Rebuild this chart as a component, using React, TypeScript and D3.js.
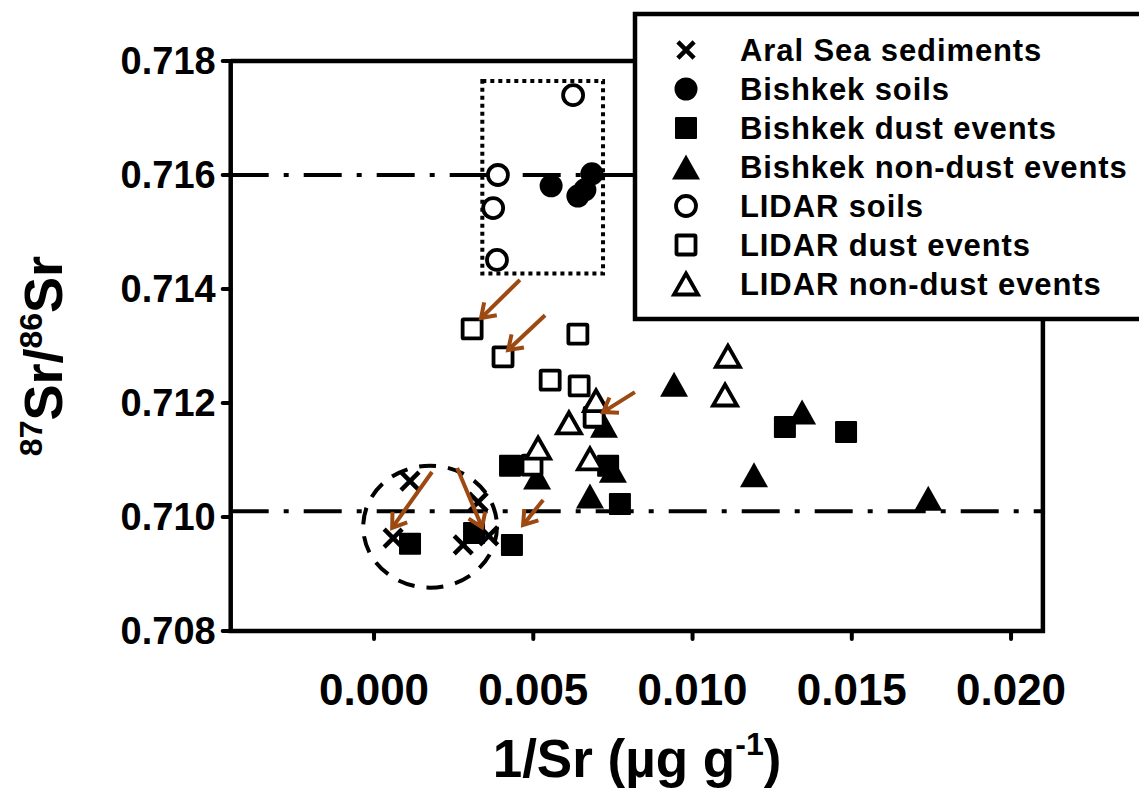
import React from "react";
import * as d3 from "d3";

const W = 1139;
const H = 792;
const FONT = "'Liberation Sans', Arial, sans-serif";
const ARROW_COLOR = "#9C4A12";

const xTicks = [0, 0.005, 0.01, 0.015, 0.02];
const yTicks = [0.708, 0.71, 0.712, 0.714, 0.716, 0.718];
const refLines = [0.716, 0.7101];

type P = [number, number];

const aralSea: P[] = [
  [0.00113, 0.71063],
  [0.0006, 0.70963],
  [0.0028, 0.70951],
  [0.00327, 0.71026],
  [0.0036, 0.70967],
];
const bishkekSoils: P[] = [
  [0.00556, 0.71581],
  [0.0064, 0.71563],
  [0.00662, 0.71574],
  [0.00684, 0.71602],
];
const bishkekDust: P[] = [
  [0.00113, 0.70953],
  [0.00314, 0.70972],
  [0.00433, 0.70951],
  [0.00427, 0.7109],
  [0.00735, 0.7109],
  [0.00772, 0.71023],
  [0.0129, 0.71158],
  [0.01482, 0.71149],
];
const bishkekNonDust: P[] = [
  [0.00942, 0.71233],
  [0.00512, 0.7107],
  [0.00722, 0.71161],
  [0.00678, 0.71037],
  [0.0075, 0.71082],
  [0.01193, 0.71074],
  [0.01344, 0.71184],
  [0.0174, 0.71033],
];
const lidarSoils: P[] = [
  [0.00625, 0.7174],
  [0.00389, 0.716],
  [0.00374, 0.71542],
  [0.00386, 0.71451],
];
const lidarDust: P[] = [
  [0.00308, 0.7133],
  [0.00405, 0.71281],
  [0.0064, 0.71321],
  [0.00553, 0.7124],
  [0.00644, 0.7123],
  [0.00691, 0.71175],
  [0.00496, 0.71091],
];
const lidarNonDust: P[] = [
  [0.00697, 0.71204],
  [0.00612, 0.71165],
  [0.00515, 0.71121],
  [0.00678, 0.71102],
  [0.01111, 0.71282],
  [0.01102, 0.71214],
];

// arrows: [x1, y1, x2(head), y2(head)]
const arrows: [number, number, number, number][] = [
  [0.00458, 0.71416, 0.00336, 0.71349],
  [0.00537, 0.71354, 0.00421, 0.71293],
  [0.00819, 0.71219, 0.00719, 0.71184],
  [0.00182, 0.71079, 0.00057, 0.70981],
  [0.00261, 0.71086, 0.00339, 0.70982],
  [0.00531, 0.7103, 0.00468, 0.70986],
];

// dotted box [x0, x1, y0, y1]
const dottedBox = [0.0034, 0.00719, 0.71427, 0.71765];
// dashed ellipse [cx, cy, rx, ry]
const dashedEllipse = [0.00176, 0.70983, 0.0021, 0.00107];

const legendItems = [
  { label: "Aral Sea sediments", shape: "x" },
  { label: "Bishkek soils", shape: "circleF" },
  { label: "Bishkek dust events", shape: "squareF" },
  { label: "Bishkek non-dust events", shape: "triF" },
  { label: "LIDAR soils", shape: "circleO" },
  { label: "LIDAR dust events", shape: "squareO" },
  { label: "LIDAR non-dust events", shape: "triO" },
];

const x = d3.scaleLinear().domain([-0.0045, 0.021]).range([230.7, 1042.9]);
const y = d3.scaleLinear().domain([0.708, 0.718]).range([631, 61]);

function Marker({ shape, cx, cy, s = 1 }: { shape: string; cx: number; cy: number; s?: number }) {
  if (shape === "x") {
    const r = 9 * s;
    return (
      <path
        d={`M${cx - r},${cy - r}L${cx + r},${cy + r}M${cx - r},${cy + r}L${cx + r},${cy - r}`}
        stroke="#000"
        strokeWidth={4.5}
        fill="none"
      />
    );
  }
  if (shape === "circleF" || shape === "circleO") {
    const filled = shape === "circleF";
    return (
      <circle
        cx={cx}
        cy={cy}
        r={filled ? 11.5 * s : 10 * s}
        fill={filled ? "#000" : "#fff"}
        stroke="#000"
        strokeWidth={filled ? 0 : 3.8}
      />
    );
  }
  if (shape === "squareF" || shape === "squareO") {
    const filled = shape === "squareF";
    const h = filled ? 11 * s : 9.5 * s;
    return (
      <rect
        x={cx - h}
        y={cy - h}
        width={2 * h}
        height={2 * h}
        fill={filled ? "#000" : "#fff"}
        stroke="#000"
        strokeWidth={filled ? 0 : 3.8}
        rx={1}
      />
    );
  }
  const filled = shape === "triF";
  const hw = filled ? 14 * s : 12 * s;
  const hh = filled ? 12.5 * s : 10.5 * s;
  return (
    <path
      d={`M${cx},${cy - hh}L${cx + hw},${cy + hh}L${cx - hw},${cy + hh}Z`}
      fill={filled ? "#000" : "#fff"}
      stroke="#000"
      strokeWidth={filled ? 0 : 3.8}
      strokeLinejoin="miter"
    />
  );
}

function Arrow({ a }: { a: [number, number, number, number] }) {
  const x1 = x(a[0]);
  const y1 = y(a[1]);
  const x2 = x(a[2]);
  const y2 = y(a[3]);
  const ang = Math.atan2(y2 - y1, x2 - x1);
  const L = 16;
  const spread = 0.6;
  const ax = x2 - L * Math.cos(ang - spread);
  const ay = y2 - L * Math.sin(ang - spread);
  const bx = x2 - L * Math.cos(ang + spread);
  const by = y2 - L * Math.sin(ang + spread);
  return (
    <g stroke={ARROW_COLOR} strokeWidth={4} fill="none" strokeLinecap="butt">
      <line x1={x1} y1={y1} x2={x2} y2={y2} />
      <path d={`M${ax},${ay}L${x2},${y2}L${bx},${by}`} strokeLinejoin="miter" />
    </g>
  );
}

export default function App() {
  const x0 = x(-0.0045);
  const x1 = x(0.021);
  const yb = y(0.708);
  const yt = y(0.718);
  const series: [string, P[]][] = [
    ["x", aralSea],
    ["circleF", bishkekSoils],
    ["squareF", bishkekDust],
    ["triF", bishkekNonDust],
    ["circleO", lidarSoils],
    ["squareO", lidarDust],
    ["triO", lidarNonDust],
  ];
  return (
    <svg
      width={W}
      height={H}
      style={{ position: "absolute", left: 0, top: 0, background: "#fff" }}
      fontFamily={FONT}
    >
      <rect x={0} y={0} width={W} height={H} fill="#fff" />
      {/* reference lines */}
      {refLines.map((v) => (
        <line
          key={v}
          x1={x0}
          x2={x1}
          y1={y(v)}
          y2={y(v)}
          stroke="#000"
          strokeWidth={4}
          strokeDasharray="38 15 5 15"
        />
      ))}
      {/* frame */}
      <path
        d={`M${x0},${yt}L${x0},${yb}L${x1},${yb}L${x1},${yt}L${x0},${yt}`}
        fill="none"
        stroke="#000"
        strokeWidth={4.5}
      />
      {/* y ticks */}
      {yTicks.map((t) => (
        <g key={t}>
          <line x1={x0 - 8} x2={x0} y1={y(t)} y2={y(t)} stroke="#000" strokeWidth={4} strokeLinecap="round" />
          <text
            x={x0 - 15}
            y={y(t)}
            textAnchor="end"
            dominantBaseline="central"
            fontSize={38}
            fontWeight="bold"
          >
            {d3.format(".3f")(t)}
          </text>
        </g>
      ))}
      {/* x ticks */}
      {xTicks.map((t) => (
        <g key={t}>
          <line x1={x(t)} x2={x(t)} y1={yb} y2={yb + 8} stroke="#000" strokeWidth={4} strokeLinecap="round" />
          <text x={x(t)} y={yb + 74} textAnchor="middle" fontSize={44} fontWeight="bold">
            {d3.format(".3f")(t)}
          </text>
        </g>
      ))}
      {/* axis titles */}
      <text x={637} y={777} textAnchor="middle" fontSize={53} fontWeight="bold">
        1/Sr (µg g<tspan dy={-22} fontSize={32}>-1</tspan>
        <tspan dy={22}>)</tspan>
      </text>
      <text
        transform={`translate(62,356) rotate(-90)`}
        textAnchor="middle"
        fontSize={54}
        fontWeight="bold"
      >
        <tspan fontSize={32} dy={-20}>87</tspan>
        <tspan dy={20}>Sr/</tspan>
        <tspan fontSize={32} dy={-20}>86</tspan>
        <tspan dy={20}>Sr</tspan>
      </text>
      {/* dotted box */}
      <rect
        x={x(dottedBox[0])}
        y={y(dottedBox[3])}
        width={x(dottedBox[1]) - x(dottedBox[0])}
        height={y(dottedBox[2]) - y(dottedBox[3])}
        fill="none"
        stroke="#000"
        strokeWidth={4}
        strokeDasharray="4 4"
      />
      {/* markers */}
      {series.map(([shape, pts]) =>
        pts.map((p, i) => <Marker key={shape + i} shape={shape} cx={x(p[0])} cy={y(p[1])} />)
      )}
      {/* dashed ellipse */}
      <ellipse
        cx={x(dashedEllipse[0])}
        cy={y(dashedEllipse[1])}
        rx={x(dashedEllipse[2]) - x(0)}
        ry={y(0.708) - y(0.708 + dashedEllipse[3])}
        fill="none"
        stroke="#000"
        strokeWidth={4}
        strokeDasharray="17 12"
      />
      {/* arrows */}
      {arrows.map((a, i) => (
        <Arrow key={i} a={a} />
      ))}
      {/* legend */}
      <rect x={635} y={14} width={520} height={305} fill="#fff" stroke="#000" strokeWidth={4.5} />
      {legendItems.map((it, i) => {
        const cy = 50 + i * 39;
        return (
          <g key={it.label}>
            <Marker shape={it.shape} cx={686} cy={cy} s={it.shape === "x" ? 0.9 : 1} />
            <text
              x={740}
              y={cy}
              dominantBaseline="central"
              fontSize={31}
              fontWeight="bold"
              letterSpacing={0.9}
            >
              {it.label}
            </text>
          </g>
        );
      })}
    </svg>
  );
}
